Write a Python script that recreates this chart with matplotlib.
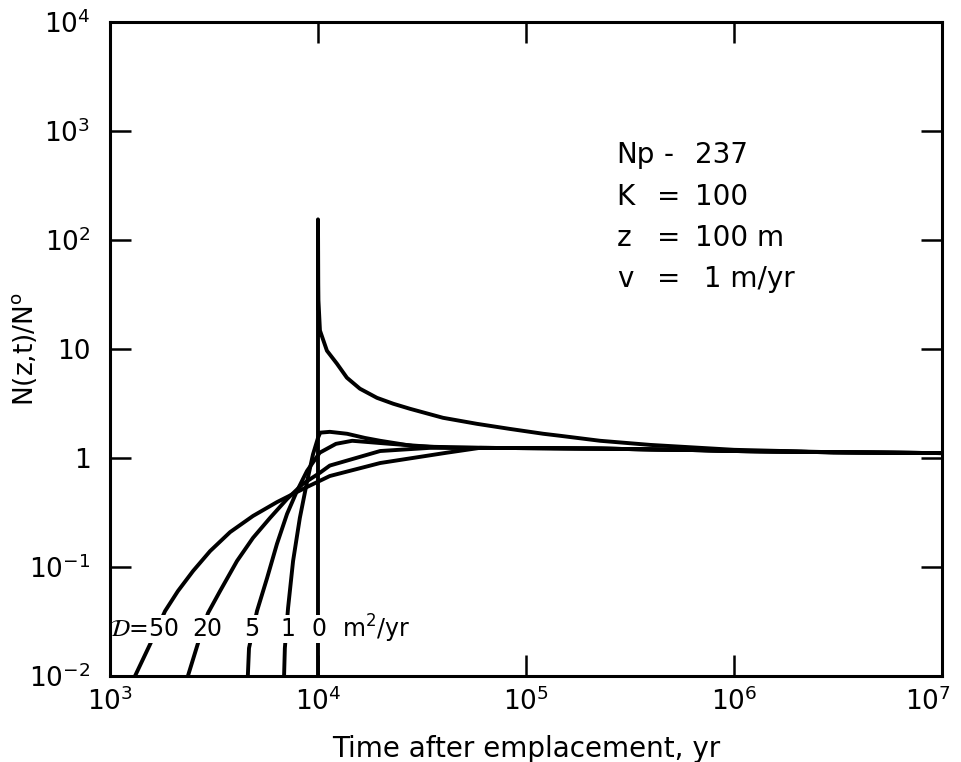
import numpy as np
import matplotlib
matplotlib.use('Agg')
import matplotlib.pyplot as plt
from matplotlib.transforms import ScaledTranslation

# curves (time in yr, N(z,t)/N0)
tail_t = [6.0e4, 1.3e5, 2.3e5, 4.0e5, 7.0e5, 1.0e6, 3.0e6, 1.0e7]
tail_n = [1.24, 1.23, 1.22, 1.20, 1.18, 1.16, 1.13, 1.11]

d0_t = [1.0e4, 1.0e4, 1.003e4, 1.005e4, 1.022e4, 1.104e4, 1.233e4, 1.377e4,
        1.59e4, 1.92e4, 2.30e4, 2.77e4, 3.99e4, 5.81e4, 8.37e4, 1.21e5,
        1.46e5, 2.27e5, 3.95e5, 6.9e5, 1.0e6, 3.0e6, 1.0e7]
d0_n = [0.01, 155, 40, 28, 14.8, 9.66, 7.35, 5.46,
        4.33, 3.57, 3.15, 2.83, 2.34, 2.06, 1.85, 1.67,
        1.60, 1.44, 1.32, 1.24, 1.19, 1.13, 1.11]

d1_t = [6.87e3, 6.93e3, 7.18e3, 7.59e3, 8.18e3, 8.85e3, 9.46e3, 1.0e4, 1.025e4,
        1.14e4, 1.38e4, 1.68e4, 1.99e4, 2.86e4, 4.3e4]
d1_n = [0.01, 0.018, 0.042, 0.1135, 0.282, 0.60, 1.08, 1.53, 1.71,
        1.74, 1.67, 1.53, 1.44, 1.29, 1.245]

d5_t = [4.60e3, 4.66e3, 5.09e3, 5.69e3, 6.35e3, 7.10e3, 7.93e3, 8.85e3, 1.02e4,
        1.22e4, 1.46e4, 2.22e4, 3.45e4]
d5_n = [0.01, 0.018, 0.0394, 0.079, 0.163, 0.307, 0.50, 0.76, 1.12,
        1.35, 1.44, 1.35, 1.27]

d20_t = [2.37e3, 2.65e3, 2.96e3, 3.38e3, 4.08e3, 4.87e3, 5.88e3, 7.10e3, 8.47e3,
         1.02e4, 1.14e4, 1.99e4, 3.45e4]
d20_n = [0.01, 0.020, 0.0378, 0.060, 0.1135, 0.185, 0.282, 0.421, 0.580,
         0.731, 0.853, 1.16, 1.24]

d50_t = [1.32e3, 1.56e3, 1.84e3, 2.12e3, 2.51e3, 3.03e3, 3.78e3, 4.87e3, 6.35e3,
         7.59e3, 8.85e3, 1.14e4, 1.99e4, 4.17e4]
d50_n = [0.01, 0.0196, 0.0394, 0.060, 0.092, 0.140, 0.209, 0.294, 0.394,
         0.468, 0.542, 0.684, 0.90, 1.12]

d_labels = [r'$\mathcal{D}$=50', '20', '5', '1', '0']
d_label_t = [1.47e3, 2.93e3, 4.82e3, 7.18e3, 1.01e4]

xticks = [1e3, 1e4, 1e5, 1e6, 1e7]
xticklabels = [r'$10^{3}$', r'$10^{4}$', r'$10^{5}$', r'$10^{6}$', r'$10^{7}$']
yticks = [1e-2, 1e-1, 1, 10, 1e2, 1e3, 1e4]
yticklabels = [r'$10^{-2}$', r'$10^{-1}$', '1', '10', r'$10^{2}$', r'$10^{3}$', r'$10^{4}$']

params_left = ['Np', 'K', 'z', 'v']
params_mid = ['-', '=', '=', '=']
params_right = ['237', '100', '100 m', ' 1 m/yr']

plt.rcParams['mathtext.default'] = 'regular'
plt.rcParams['mathtext.fontset'] = 'dejavusans'

fig = plt.figure(figsize=(9.62, 7.62), dpi=100)
ax = fig.add_axes([0.1143, 0.1129, 0.865, 0.858])

lw = 2.8
ax.plot(d0_t, d0_n, color='black', lw=lw, solid_joinstyle='round', zorder=2)
for t, n in [(d1_t, d1_n), (d5_t, d5_n), (d20_t, d20_n), (d50_t, d50_n)]:
    ax.plot(t + tail_t, n + tail_n, color='black', lw=lw,
            solid_joinstyle='round', zorder=2)

ax.set_xscale('log')
ax.set_yscale('log')
ax.set_xlim(1e3, 1e7)
ax.set_ylim(1e-2, 1e4)

ax.set_xticks(xticks)
ax.set_xticklabels(xticklabels)
ax.set_yticks(yticks)
ax.set_yticklabels(yticklabels)
ax.minorticks_off()
ax.tick_params(which='major', direction='in', length=15, width=1.8,
               top=True, right=True, labelsize=19)
ax.tick_params(axis='x', pad=8)
ax.tick_params(axis='y', pad=14)
for s in ax.spines.values():
    s.set_linewidth(2.2)
    s.set_zorder(6)

# last x label sits a little left of its tick, as in the original
lab7 = ax.get_xticklabels()[-1]
lab7.set_transform(lab7.get_transform() + ScaledTranslation(-10 / 72, 0, fig.dpi_scale_trans))

ax.set_xlabel('Time after emplacement, yr', fontsize=20, labelpad=14)
ax.set_ylabel(r'N(z,t)/N$^{o}$', fontsize=19)
ax.yaxis.set_label_coords(-0.085, 0.5)

# D labels across the curves
for lab, t in zip(d_labels, d_label_t):
    ax.text(t, 0.027, lab, fontsize=17, ha='center', va='center', zorder=5,
            bbox=dict(facecolor='white', edgecolor='none', pad=1.5))
ax.text(1.3e4, 0.027, r'm$^{2}$/yr', fontsize=17, ha='left', va='center', zorder=5,
        bbox=dict(facecolor='white', edgecolor='none', pad=1.5))

# parameter block
ys = [0.797, 0.732, 0.670, 0.607]
for a, m, b, y in zip(params_left, params_mid, params_right, ys):
    ax.text(0.609, y, a, transform=ax.transAxes, fontsize=20, va='center')
    ax.text(0.671, y, m, transform=ax.transAxes, fontsize=20, va='center', ha='center')
    ax.text(0.703, y, b, transform=ax.transAxes, fontsize=20, va='center')

fig.savefig('out.png', dpi=100)
